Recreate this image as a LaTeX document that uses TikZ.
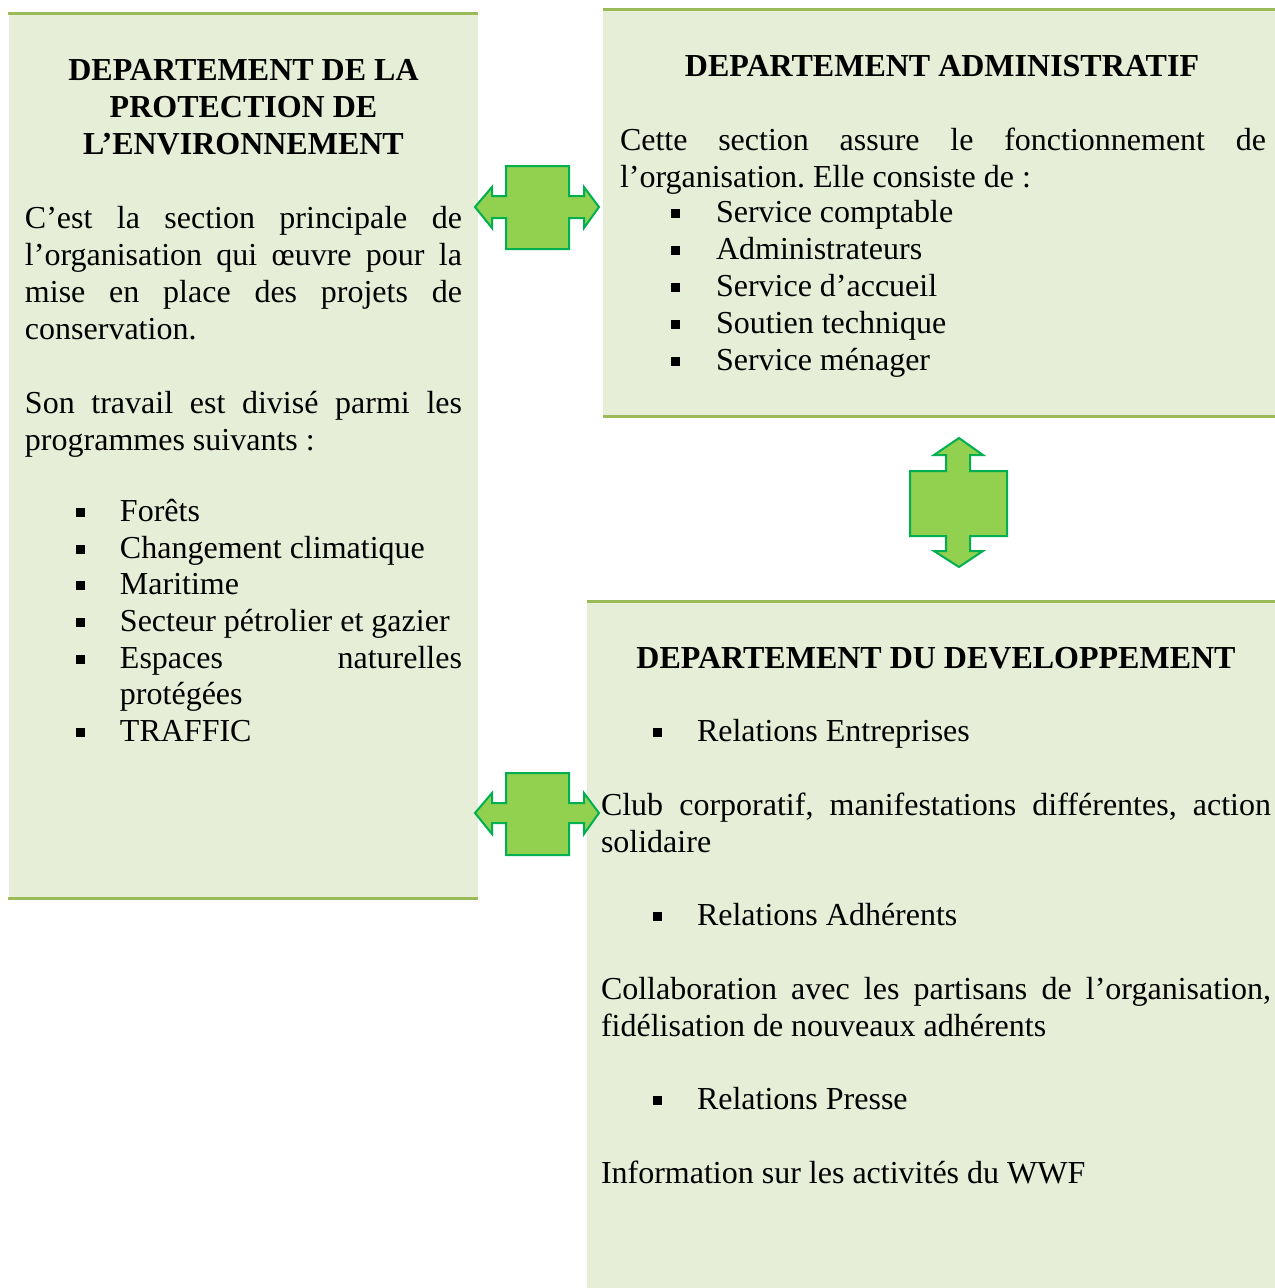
\documentclass[tikz,border=0pt]{standalone}
\usepackage{fontspec}
\setmainfont{Liberation Serif}
\frenchspacing
\newdimen\pxu \pxu=0.375pt
\definecolor{boxfill}{HTML}{E6EED7}
\definecolor{boxline}{HTML}{9BBB59}
\definecolor{arrfill}{HTML}{92D050}
\definecolor{arrline}{HTML}{00B050}
\newcommand\jst[2]{\makebox[#1\pxu][s]{#2}}
\newcommand\blt[2]{\fill[black] (#1-4.5,#2-13) rectangle (#1+4.5,#2-4);}
\begin{document}
\begin{tikzpicture}[x=0.375pt,y=-0.375pt,
  txt/.style={anchor=base west,inner sep=0pt,outer sep=0pt,font=\fontsize{12}{13.875}\selectfont},
  ttl/.style={txt,anchor=base,font=\fontsize{12}{13.875}\selectfont\bfseries},
  boxbg/.style={fill=boxfill},
  rule/.style={draw=boxline,line width=1.125pt},
  dblarrow/.style={fill=arrfill,draw=arrline,line width=0.75pt,line join=miter}]
\useasboundingbox (0,0) rectangle (1275,1288);

% boxes
\fill[boxbg] (9,12) rectangle (478,899);
\draw[rule] (8,13) -- (478,13);
\draw[rule] (8,898) -- (478,898);
\fill[boxbg] (603,8) rectangle (1275,417);
\draw[rule] (603,9) -- (1275,9);
\draw[rule] (603,416) -- (1275,416);
\fill[boxbg] (587,600) rectangle (1275,1288);
\draw[rule] (587,601) -- (1275,601);

% arrows
\draw[dblarrow] (475,207) -- (492,187) -- (492,196) -- (506,196) -- (506,166) -- (569,166) -- (569,196) -- (584,196) -- (584,187) -- (599,207) -- (584,228) -- (584,218) -- (569,218) -- (569,249) -- (506,249) -- (506,218) -- (492,218) -- (492,228) -- cycle;
\draw[dblarrow] (475,813) -- (492,793) -- (492,803) -- (506,803) -- (506,773) -- (569,773) -- (569,803) -- (584,803) -- (584,793) -- (599,813) -- (584,834) -- (584,823) -- (569,823) -- (569,855) -- (506,855) -- (506,823) -- (492,823) -- (492,834) -- cycle;
\draw[dblarrow] (959,438) -- (983,455) -- (970,455) -- (970,471) -- (1007,471) -- (1007,536) -- (970,536) -- (970,551) -- (983,551) -- (959,567) -- (934,551) -- (946,551) -- (946,536) -- (910,536) -- (910,471) -- (946,471) -- (946,455) -- (934,455) -- cycle;

% box 1
\node[ttl] (t1a) at (243.5,80) {DEPARTEMENT DE LA};
\node[ttl] (t1b) at (243.5,117) {PROTECTION DE};
\node[ttl] (t1c) at (243.5,154) {L’ENVIRONNEMENT};
\node[txt] (p1a) at (25,228) {\jst{437}{C’est la section principale de}};
\node[txt] (p1b) at (25,265) {\jst{437}{l’organisation qui œuvre pour la}};
\node[txt] (p1c) at (25,302) {\jst{437}{mise en place des projets de}};
\node[txt] (p1d) at (25,339) {conservation.};
\node[txt] (p1e) at (25,413) {\jst{437}{Son travail est divisé parmi les}};
\node[txt] (p1f) at (25,450) {programmes suivants :};
\blt{80}{521}\node[txt] (b1a) at (120,521) {Forêts};
\blt{80}{558}\node[txt] (b1b) at (120,558) {Changement climatique};
\blt{80}{594}\node[txt] (b1c) at (120,594) {Maritime};
\blt{80}{631}\node[txt] (b1d) at (120,631) {Secteur pétrolier et gazier};
\blt{80}{668}\node[txt] (b1e) at (120,668) {\jst{342}{Espaces naturelles}};
\node[txt] (b1f) at (120,704) {protégées};
\blt{80}{741}\node[txt] (b1g) at (120,741) {TRAFFIC};

% box 2
\node[ttl] (t2) at (942,76) {DEPARTEMENT ADMINISTRATIF};
\node[txt] (p2a) at (620,150) {\jst{646}{Cette section assure le fonctionnement de}};
\node[txt] (p2b) at (620,187) {l’organisation. Elle consiste de :};
\blt{675}{222}\node[txt] (b2a) at (716,222) {Service comptable};
\blt{675}{259}\node[txt] (b2b) at (716,259) {Administrateurs};
\blt{675}{296}\node[txt] (b2c) at (716,296) {Service d’accueil};
\blt{675}{333}\node[txt] (b2d) at (716,333) {Soutien technique};
\blt{675}{370}\node[txt] (b2e) at (716,370) {Service ménager};

% box 3
\node[ttl] (t3) at (936,668) {DEPARTEMENT DU DEVELOPPEMENT};
\blt{657}{741}\node[txt] (b3a) at (697,741) {Relations Entreprises};
\node[txt] (p3a) at (601,815) {\jst{670}{Club corporatif, manifestations différentes, action}};
\node[txt] (p3b) at (601,852) {solidaire};
\blt{657}{925}\node[txt] (b3b) at (697,925) {Relations Adhérents};
\node[txt] (p3c) at (601,999) {\jst{670}{Collaboration avec les partisans de l’organisation,}};
\node[txt] (p3d) at (601,1036) {fidélisation de nouveaux adhérents};
\blt{657}{1109}\node[txt] (b3c) at (697,1109) {Relations Presse};
\node[txt] (p3e) at (601,1183) {Information sur les activités du WWF};
\end{tikzpicture}
\end{document}
